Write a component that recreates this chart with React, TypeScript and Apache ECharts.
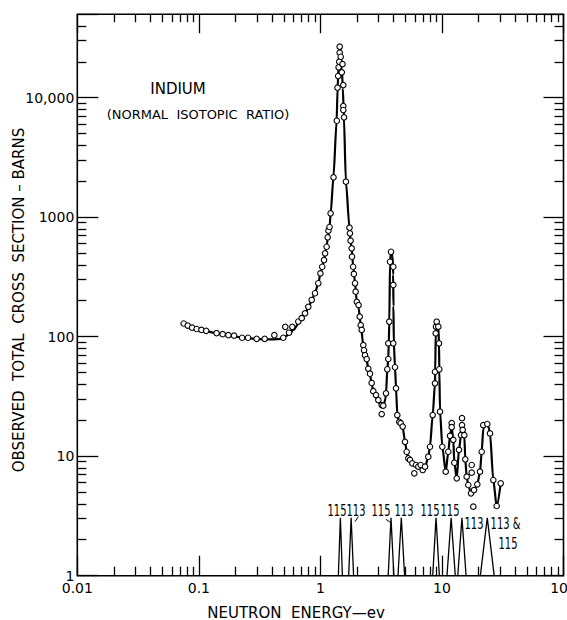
import React, { useEffect, useRef } from 'react';
import * as echarts from 'echarts';

// Axis tick labels
const xTickLabels = ['0.01', '0.1', '1', '10', '100'];
const yTickLabels = ['1', '10', '100', '1000', '10,000'];

// Observed points (open circles): neutron energy (eV) and cross section (barns)
const obsEnergy = [
  0.075, 0.081, 0.088, 0.096, 0.105, 0.115, 0.14, 0.157, 0.175, 0.195, 0.227, 0.254, 0.299, 0.348,
  0.418, 0.495, 0.514, 0.552, 0.587, 0.658, 0.702, 0.747, 0.795, 0.848, 0.903, 0.961,
  1.0, 1.035, 1.071, 1.093, 1.125, 1.148, 1.164, 1.188, 1.213, 1.282, 1.364, 1.382, 1.4, 1.411,
  1.43, 1.441, 1.441, 1.469, 1.52, 1.5, 1.543, 1.543, 1.543, 1.564, 1.621, 1.735, 1.75, 1.772,
  1.809, 1.82, 1.858, 1.885, 1.926, 1.95, 1.993, 2.062, 2.106, 2.146, 2.187, 2.254, 2.284, 2.328,
  2.404, 2.478, 2.559, 2.642, 2.724, 2.867, 2.995, 3.194, 3.292, 3.194,
  3.465, 3.551, 3.619, 3.619, 3.688, 3.738, 3.809, 3.978, 3.978, 3.978, 4.109, 4.188, 4.292,
  4.457, 4.577, 4.754, 4.966, 5.129, 5.287, 5.459, 5.703, 5.923, 6.117, 6.389, 6.687, 6.944,
  7.254, 7.721, 7.974, 8.393, 8.767, 8.767, 8.885, 8.936, 9.054, 9.333, 9.456, 9.511, 9.638,
  10.07, 10.74, 11.28, 11.65, 12.03, 12.03, 12.4, 12.64, 13.23, 13.81, 14.35, 14.62, 14.62,
  14.81, 15.27, 15.56, 15.98, 16.47, 17.34, 17.57, 17.57, 18.11, 18.35, 19.54, 20.56, 21.23,
  21.89, 23.61, 24.85, 26.46, 28.2, 30.43,
];
const obsSigma = [
  129, 124, 119, 116, 114, 112, 107, 105, 103, 102, 98, 98, 96, 96,
  103, 98, 121, 108, 121, 134, 143, 157, 178, 203, 231, 280,
  339, 385, 438, 499, 566, 679, 771, 828, 1078, 2158, 6420, 12130, 15190, 17970,
  20010, 23800, 26730, 22030, 19140, 16320, 12770, 8520, 7890, 6855, 1982, 817, 733, 636,
  549, 467, 385, 335, 280, 238, 196, 184, 147, 125, 114, 85, 77, 70,
  65, 54, 49, 41, 35, 32.5, 29.5, 26.8, 26.5, 22.5,
  33.6, 53.4, 65.1, 88.1, 133.5, 424, 514, 385, 271, 88.1, 55.5, 37, 22.1,
  19.4, 18.9, 17.7, 13.2, 10.9, 9.6, 9.3, 8.72, 7.19, 8.44, 8.17, 8.44, 7.66,
  8.17, 9.9, 12.0, 22.1, 40.7, 50.9, 106.8, 121.3, 133.5, 121.3, 88.1, 53.4, 23.6,
  12.0, 7.42, 10.9, 14.8, 18.9, 17.5, 13.7, 8.82, 6.53, 11.3, 15.0, 18.2, 20.8,
  16.6, 15.0, 9.42, 6.74, 5.74, 4.89, 8.44, 7.28, 3.78, 5.21, 5.82, 7.42, 10.9,
  18.2, 18.6, 15.5, 6.32, 3.83, 5.93,
];

// Drawn curve through the observations
const curveEnergy = [
  0.115, 0.14, 0.175, 0.22, 0.3, 0.4, 0.48, 0.55, 0.6, 0.66, 0.7, 0.75, 0.8, 0.85, 0.9, 0.96,
  1.0, 1.035, 1.07, 1.09, 1.125, 1.15, 1.19, 1.215, 1.28, 1.36, 1.385, 1.41, 1.44, 1.455,
  1.475, 1.5, 1.53, 1.56, 1.62, 1.735, 1.77, 1.81, 1.86, 1.93, 1.99, 2.06, 2.15, 2.25, 2.33,
  2.4, 2.48, 2.56, 2.64, 2.72, 2.87, 3.0, 3.2, 3.3, 3.42, 3.47, 3.55, 3.62, 3.65, 3.69, 3.74,
  3.81, 3.86, 3.93, 3.97, 3.99, 4.02, 4.11, 4.19, 4.29, 4.4, 4.58, 4.75, 4.97, 5.13, 5.29,
  5.46, 5.7, 6.1, 6.5, 6.95, 7.3, 7.72, 7.97, 8.39, 8.77, 8.8, 8.89, 8.94, 9.05, 9.2, 9.33,
  9.46, 9.51, 9.64, 10.07, 10.74, 11.28, 11.65, 12.03, 12.4, 12.64, 13.23, 13.81, 14.35,
  14.7, 15.27, 15.56, 15.98, 16.47, 17.34, 18.35, 19.54, 20.56, 21.23, 21.89, 23.0, 24.2,
  24.85, 26.46, 28.2, 30.43,
];
const curveSigma = [
  112, 107, 103, 99, 95.5, 95, 96, 104, 114, 128, 141, 156, 177, 202, 230, 278,
  335, 385, 438, 495, 566, 680, 830, 1080, 2160, 6400, 12000, 18000, 24000, 26500,
  23000, 17500, 12000, 7000, 2000, 817, 636, 549, 385, 280, 196, 175, 125, 86, 70,
  64, 54, 48, 41, 35, 31, 28.5, 26, 26, 30, 34, 53, 66, 88, 133, 424,
  514, 500, 470, 330, 180, 88, 55.5, 37, 22.5, 19.5, 18.7, 17.5, 13.2, 10.9, 9.6,
  9.2, 8.7, 8.3, 8.1, 7.8, 8.2, 9.9, 12.0, 22, 41, 51, 107, 121, 133, 130, 121,
  88, 53, 24, 12.0, 7.4, 10.9, 14.8, 17.5, 13.7, 8.8, 6.5, 11.3, 15,
  18.2, 15, 9.4, 6.7, 5.7, 4.9, 5.2, 5.8, 7.4, 10.9, 17, 18.4, 17.5,
  15.5, 6.3, 3.8, 5.9,
];

// Resonance markers at the bottom (isotope lines)
const spikeEnergy = [1.46, 1.79, 3.81, 4.63, 8.94, 11.9, 14.6, 23.6];
const spikeWidth = [0.039, 0.048, 0.055, 0.065, 0.065, 0.082, 0.082, 0.14];
const spikeHeight = [3.05, 3.05, 3.05, 3.05, 3.05, 3.05, 3.05, 3.05];
const spikeLabelText = ['115', '113', '115', '113', '115', '115', '113', '113 &', '115'];
const spikeLabelEnergy = [1.37, 1.963, 3.152, 4.873, 7.974, 11.65, 18.35, 33.34, 34.95];
const spikeLabelSigma = [3.5, 3.5, 3.5, 3.5, 3.5, 3.5, 2.745, 2.745, 1.87];
const leaderStartEnergy = [1.926, 3.465];
const leaderStartSigma = [2.83, 2.96];
const leaderEndEnergy = [2.05, 3.79];
const leaderEndSigma = [3.12, 2.78];

const X_MIN = 0.01;
const X_MAX = 100;
const Y_MIN = 1;
const Y_MAX = 50000;
const FONT = "'DejaVu Sans', sans-serif";

// Minor tick multipliers inside each decade
const minorSteps = [2, 3, 4, 5, 6, 7, 8, 9];

// Plot frame (pixels inside the 567x620 canvas)
const W = 567;
const H = 620;
const G_LEFT = 77.3;
const G_RIGHT = 3.5;
const G_TOP = 14.2;
const G_BOTTOM = 44.3;
const PLOT_W = W - G_LEFT - G_RIGHT;
const PLOT_H = H - G_TOP - G_BOTTOM;
const X_DECADES = Math.log10(X_MAX / X_MIN);
const Y_DECADES = Math.log10(Y_MAX / Y_MIN);
const DX = PLOT_W / X_DECADES;
const DY = PLOT_H / Y_DECADES;

function decadeLabel(v: number, labels: string[], offset: number) {
  const e = Math.log10(v);
  const r = Math.round(e);
  if (Math.abs(e - r) > 1e-6) return '';
  return labels[r + offset] ?? '';
}

const tickLine = { color: '#000', width: 1.3 };

// Main log axis: draws its decade ticks inward
function majorLogAxis(position: string, min: number, max: number, len: number, labels: any) {
  return {
    type: 'log',
    logBase: 10,
    gridIndex: 0,
    position,
    min,
    max,
    axisLine: { show: false, onZero: false },
    axisTick: { show: true, inside: true, length: len, lineStyle: tickLine },
    splitLine: { show: false },
    minorTick: { show: false },
    axisLabel: labels,
  };
}

// Helper axis in log10 units (one tick per decade), in a grid shifted by log10(m)
function minorAxis(gridIndex: number, position: string, decades: number, len: number) {
  return {
    type: 'value',
    gridIndex,
    position,
    min: 0,
    max: decades,
    interval: 1,
    axisLine: { show: false, onZero: false },
    axisTick: { show: true, inside: true, length: len, lineStyle: tickLine },
    axisLabel: { show: false },
    splitLine: { show: false },
    minorTick: { show: false },
  };
}

function hiddenAxis(gridIndex: number) {
  return { type: 'value', gridIndex, show: false, min: 0, max: 1 };
}

export default function App() {
  const ref = useRef<HTMLDivElement>(null);
  useEffect(() => {
    if (!ref.current) return;
    const chart = echarts.init(ref.current, undefined, { renderer: 'svg' });

    const grids: any[] = [
      {
        left: G_LEFT,
        right: G_RIGHT,
        top: G_TOP,
        bottom: G_BOTTOM,
        show: true,
        borderColor: '#000',
        borderWidth: 1.6,
        backgroundColor: 'transparent',
        containLabel: false,
        outerBoundsMode: 'none',
      },
    ];
    const xAxes: any[] = [
      majorLogAxis('bottom', X_MIN, X_MAX, 20, {
        color: '#000',
        fontFamily: FONT,
        fontSize: 14,
        margin: 5,
        formatter: (v: number) => decadeLabel(v, xTickLabels, 2),
      }),
      majorLogAxis('top', X_MIN, X_MAX, 19, { show: false }),
    ];
    const yAxes: any[] = [
      majorLogAxis('left', Y_MIN, Y_MAX, 21, {
        color: '#000',
        fontFamily: FONT,
        fontSize: 14,
        margin: 3,
        formatter: (v: number) => decadeLabel(v, yTickLabels, 0),
      }),
      majorLogAxis('right', Y_MIN, Y_MAX, 20, { show: false }),
    ];

    // x minor ticks: m*0.01, m*0.1, m*1, m*10
    minorSteps.forEach((m) => {
      const gi = grids.length;
      const decades = X_DECADES - 1;
      grids.push({
        left: G_LEFT + Math.log10(m) * DX,
        width: decades * DX,
        top: G_TOP,
        height: PLOT_H,
        show: false,
        containLabel: false,
        outerBoundsMode: 'none',
      });
      xAxes.push(minorAxis(gi, 'bottom', decades, 9));
      xAxes.push(minorAxis(gi, 'top', decades, 8));
      yAxes.push(hiddenAxis(gi));
    });

    // y minor ticks: m*1 ... up to the last one below the top of the frame
    minorSteps.forEach((m) => {
      const gi = grids.length;
      const decades = Math.floor(Y_DECADES - Math.log10(m) - 1e-9);
      grids.push({
        left: G_LEFT,
        width: PLOT_W,
        bottom: G_BOTTOM + Math.log10(m) * DY,
        height: decades * DY,
        show: false,
        containLabel: false,
        outerBoundsMode: 'none',
      });
      yAxes.push(minorAxis(gi, 'left', decades, 9));
      yAxes.push(minorAxis(gi, 'right', decades, 9));
      xAxes.push(hiddenAxis(gi));
    });

    chart.setOption({
      animation: false,
      backgroundColor: '#fff',
      grid: grids,
      xAxis: xAxes,
      yAxis: yAxes,
      graphic: [
        {
          type: 'text',
          x: 178,
          y: 89,
          style: { text: 'INDIUM', fontSize: 15, fontFamily: FONT, fill: '#000', align: 'center', verticalAlign: 'middle' },
        },
        {
          type: 'text',
          x: 106.7,
          y: 114.5,
          style: { text: '(NORMAL  ISOTOPIC  RATIO)', fontSize: 13, fontFamily: FONT, fill: '#000', align: 'left', verticalAlign: 'middle' },
        },
        {
          type: 'text',
          x: 296,
          y: 612.5,
          style: { text: 'NEUTRON  ENERGY\u2014ev', fontSize: 15, fontFamily: FONT, fill: '#000', align: 'center', verticalAlign: 'middle' },
        },
        {
          type: 'text',
          x: 19,
          y: 300,
          rotation: Math.PI / 2,
          style: {
            text: 'OBSERVED  TOTAL  CROSS  SECTION \u2013 BARNS',
            fontSize: 15,
            fontFamily: FONT,
            fill: '#000',
            align: 'center',
            verticalAlign: 'middle',
          },
        },
      ],
      series: [
        {
          type: 'custom',
          name: 'resonances',
          xAxisIndex: 0,
          yAxisIndex: 0,
          silent: true,
          z: 2,
          data: spikeEnergy.map((e, i) => [e, spikeHeight[i], spikeWidth[i]]),
          renderItem: (_p: any, api: any) => {
            const e = api.value(0);
            const h = api.value(1);
            const w = api.value(2);
            const a = api.coord([e / (1 + w), Y_MIN]);
            const m = api.coord([e, h]);
            const c = api.coord([e * (1 + w), Y_MIN]);
            return {
              type: 'polyline',
              shape: { points: [a, m, c] },
              style: { stroke: '#000', lineWidth: 1.3, fill: null },
            };
          },
        },
        {
          type: 'custom',
          name: 'leaders',
          xAxisIndex: 0,
          yAxisIndex: 0,
          silent: true,
          z: 2,
          data: leaderStartEnergy.map((e, i) => [e, leaderStartSigma[i], leaderEndEnergy[i], leaderEndSigma[i]]),
          renderItem: (_p: any, api: any) => {
            const a = api.coord([api.value(0), api.value(1)]);
            const b = api.coord([api.value(2), api.value(3)]);
            return {
              type: 'line',
              shape: { x1: a[0], y1: a[1], x2: b[0], y2: b[1] },
              style: { stroke: '#000', lineWidth: 1 },
            };
          },
        },
        {
          type: 'custom',
          name: 'resonanceLabels',
          xAxisIndex: 0,
          yAxisIndex: 0,
          silent: true,
          z: 4,
          data: spikeLabelEnergy.map((e, i) => [e, spikeLabelSigma[i], i + 1]),
          renderItem: (_p: any, api: any) => {
            const p = api.coord([api.value(0), api.value(1)]);
            const idx = api.value(2) - 1;
            return {
              type: 'text',
              x: p[0],
              y: p[1],
              scaleX: 0.62,
              style: {
                text: spikeLabelText[idx],
                fontSize: 16,
                fontFamily: FONT,
                fill: '#000',
                align: 'center',
                verticalAlign: 'middle',
              },
            };
          },
        },
        {
          type: 'line',
          name: 'curve',
          xAxisIndex: 0,
          yAxisIndex: 0,
          data: curveEnergy.map((e, i) => [e, curveSigma[i]]),
          showSymbol: false,
          symbol: 'none',
          smooth: 0.25,
          smoothMonotone: 'x',
          lineStyle: { color: '#000', width: 2.2 },
          z: 3,
          silent: true,
        },
        {
          type: 'scatter',
          name: 'observed',
          xAxisIndex: 0,
          yAxisIndex: 0,
          data: obsEnergy.map((e, i) => [e, obsSigma[i]]),
          symbol: 'circle',
          symbolSize: 5.5,
          itemStyle: { color: '#fff', borderColor: '#000', borderWidth: 1.1, opacity: 1 },
          z: 5,
          silent: true,
        },
      ],
    });

    return () => chart.dispose();
  }, []);
  return (
    <div
      ref={ref}
      style={{ position: 'absolute', left: 0, top: 0, width: W, height: H, background: '#fff' }}
    />
  );
}
